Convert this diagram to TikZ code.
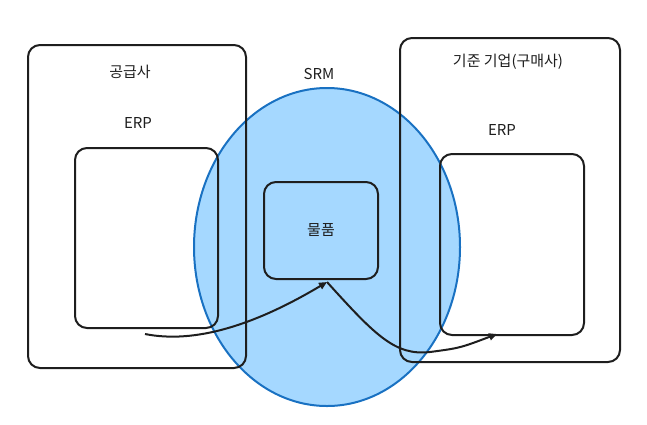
\documentclass[tikz,border=0pt]{standalone}
\usepackage{fontspec}
\setmainfont{Noto Sans CJK KR}
\usepackage{xcolor}
\usetikzlibrary{shapes.geometric, positioning, arrows.meta, calc}
\definecolor{ink}{HTML}{1E1E1E}
\definecolor{srmfill}{HTML}{A5D8FF}
\definecolor{srmline}{HTML}{1971C2}
\begin{document}
\begin{tikzpicture}[
        x=1pt, y=-1pt,
        every node/.style={font=\fontsize{15}{17}\selectfont, text=ink},
        frame/.style={draw=ink, line width=2pt, rounded corners=12pt, inner sep=0pt},
        srm/.style={ellipse, draw=srmline, fill=srmfill, line width=2pt, inner sep=0pt},
        flow/.style={draw=ink, line width=2pt, -{Triangle[length=8pt,width=7pt]}}
      ]
        \useasboundingbox (0,0) rectangle (647,424);
        % SRM ellipse below the frames
        \node[srm, minimum width=266pt, minimum height=318pt] (srmarea) at (327,247) {};
        % supplier side
        \node[frame, minimum width=218pt, minimum height=323pt] (supplier) at (137,206.5) {};
        \node[frame, minimum width=143pt, minimum height=180pt] (erpL) at (146.5,238) {};
        % buyer side
        \node[frame, minimum width=220pt, minimum height=324pt] (buyer) at (510,200) {};
        \node[frame, minimum width=144pt, minimum height=181pt] (erpR) at (512,244.5) {};
        % goods
        \node[frame, minimum width=114pt, minimum height=97pt] (item) at (321,230.5) {물품};
        % labels
        \node (supplierlbl) at (130,72) {공급사};
        \node (erpLlbl) at (138,123) {ERP};
        \node (srmlbl) at (319,74) {SRM};
        \node (buyerlbl) at (508,62) {기준 기업(구매사)};
        \node (erpRlbl) at (502,130) {ERP};
        % flows
        \coordinate (start) at (145,334);
        \coordinate (goods) at ($(item.south)+(6,2)$);
        \coordinate (target) at ($(erpR.south)+(-15,-2)$);
        \draw[flow] (start) .. controls (195,344) and (255,325) .. (goods);
        \draw[flow] (goods) .. controls (375,335) and (395,356) .. (430,352)
          .. controls (460,348) .. (target);
      \end{tikzpicture}
\end{document}
